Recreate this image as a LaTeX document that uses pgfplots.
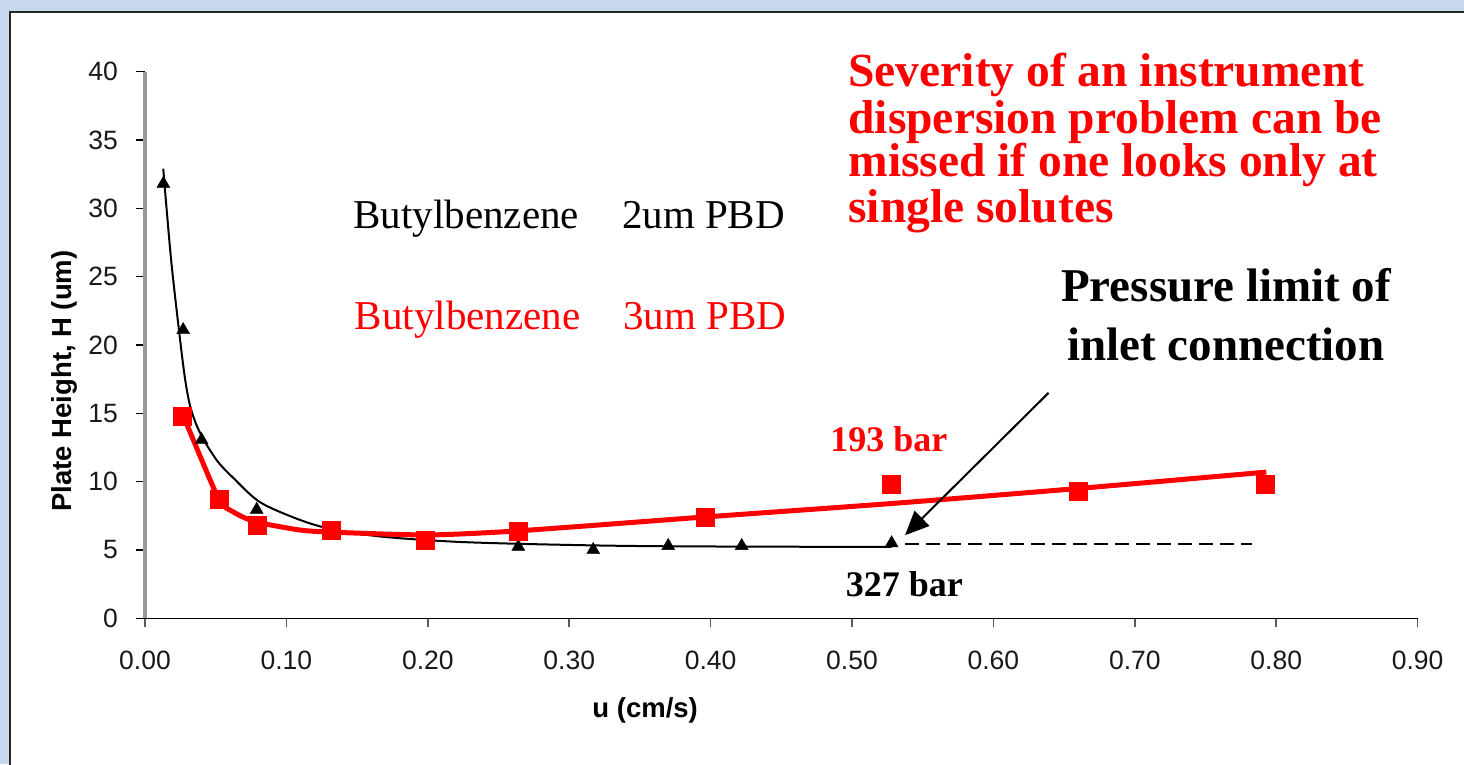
\documentclass[border=0pt]{standalone}
\usepackage{fontspec}
\setmainfont{Liberation Sans}
\newfontfamily\tnr{Liberation Serif}
\usepackage{pgfplots}
\pgfplotsset{compat=1.18}
\usetikzlibrary{arrows.meta}
\definecolor{slidebg}{RGB}{200,215,237}
\begin{document}
\begin{tikzpicture}
\useasboundingbox (0pt,0pt) rectangle (1464pt,764pt);
\fill[slidebg] (0pt,0pt) rectangle (1464pt,764pt);
\fill[white] (10pt,-10pt) rectangle (1480pt,752pt);
\draw[black!85, line width=2.5pt] (10pt,-10pt) -- (10pt,752pt) -- (1480pt,752pt);
\begin{axis}[
  at={(145pt,145.7pt)}, anchor=south west,
  scale only axis, width=1272.7pt, height=546.6pt,
  xmin=0, xmax=0.9, ymin=0, ymax=40,
  xtick={0,0.1,0.2,0.3,0.4,0.5,0.6,0.7,0.8,0.9},
  ytick={0,5,10,15,20,25,30,35,40},
  axis lines*=left,
  clip=false,
  tick align=outside,
  major tick length=9pt,
  x axis line style={black, line width=1.5pt},
  y axis line style={black!40, line width=3.5pt},
  xtick style={black!65, line width=1.5pt},
  ytick style={black, line width=1.3pt},
  /pgf/number format/assume math mode=true,
  tick label style={font=\fontsize{26.5}{26.5}\selectfont, text=black!90, inner sep=0pt},
  xticklabel style={/pgf/number format/.cd, fixed, fixed zerofill, precision=2},
  xticklabel shift=23pt,
  yticklabel shift=18pt,
  xlabel={u (cm/s)},
  ylabel={Plate Height, H (um)},
  label style={font=\bfseries\fontsize{27.5}{27.5}\selectfont},
  xlabel style={at={(axis description cs:0.393,-0.168)}, anchor=center},
  ylabel style={at={(axis description cs:-0.0636,0.434)}, anchor=center},
]
% black fitted curve (2um PBD)
\addplot[black, line width=2pt, smooth, tension=0.5] coordinates {
 (0.0129,32.9) (0.0185,26.2) (0.0248,20.4) (0.0285,17.4) (0.032,15.5)
 (0.037,14.0) (0.0436,12.7) (0.052,11.4) (0.0622,10.3)
 (0.0813,8.5) (0.1096,7.2) (0.133,6.5) (0.168,5.97) (0.216,5.62)
 (0.261,5.46) (0.32,5.33) (0.37,5.27) (0.45,5.24) (0.528,5.22)};
% dashed extension
\addplot[black, line width=2pt, dash pattern=on 14pt off 7pt] coordinates {(0.5375,5.42) (0.783,5.42)};
% red fitted curve (3um PBD)
\addplot[red, line width=5pt, smooth, tension=0.4] coordinates {
 (0.0264,15.0) (0.0518,8.8) (0.0622,7.8) (0.0778,7.07) (0.1096,6.46)
 (0.133,6.3) (0.2,6.1) (0.264,6.4) (0.394,7.4) (0.528,8.4) (0.66,9.5) (0.793,10.7)};
% black triangles
\addplot[only marks, mark=triangle*, mark size=7.5pt, black] coordinates {
 (0.013,31.8) (0.027,21.1) (0.040,13.05) (0.079,7.95) (0.264,5.24)
 (0.317,5.0) (0.370,5.3) (0.422,5.3) (0.528,5.5)};
% red squares
\addplot[only marks, mark=square*, mark size=9pt, red] coordinates {
 (0.0264,14.76) (0.0528,8.7) (0.0792,6.83) (0.132,6.46) (0.198,5.73)
 (0.264,6.39) (0.396,7.39) (0.528,9.83) (0.660,9.27) (0.792,9.83)};
% annotations
\node[anchor=base west, font=\tnr\fontsize{41}{41}\selectfont] at (axis cs:0.145,28.55) {Butylbenzene\hspace{1.05em}2um PBD};
\node[anchor=base west, font=\tnr\fontsize{41}{41}\selectfont, text=red] at (axis cs:0.146,21.1) {Butylbenzene\hspace{1.05em}3um PBD};
\node[anchor=base west, font=\tnr\bfseries\fontsize{47.5}{47.5}\selectfont, text=red] at (axis cs:0.495,38.9) {Severity of an instrument};
\node[anchor=base west, font=\tnr\bfseries\fontsize{47.5}{47.5}\selectfont, text=red] at (axis cs:0.495,35.5) {dispersion problem can be};
\node[anchor=base west, font=\tnr\bfseries\fontsize{47.5}{47.5}\selectfont, text=red] at (axis cs:0.495,32.3) {missed if one looks only at};
\node[anchor=base west, font=\tnr\bfseries\fontsize{47.5}{47.5}\selectfont, text=red] at (axis cs:0.495,29.0) {single solutes};
\node[anchor=base, font=\tnr\bfseries\fontsize{47}{47}\selectfont] at (axis cs:0.7645,23.15) {Pressure limit of};
\node[anchor=base, font=\tnr\bfseries\fontsize{47}{47}\selectfont] at (axis cs:0.7645,18.9) {inlet connection};
\node[anchor=base, font=\tnr\bfseries\fontsize{36}{36}\selectfont, text=red] at (axis cs:0.526,12.2) {193 bar};
\node[anchor=base, font=\tnr\bfseries\fontsize{36}{36}\selectfont] at (axis cs:0.537,1.58) {327 bar};
\draw[black, line width=2pt, -{Triangle[length=24pt,width=21pt]}] (axis cs:0.639,16.5) -- (axis cs:0.5375,6.08);
\end{axis}
\end{tikzpicture}
\end{document}
